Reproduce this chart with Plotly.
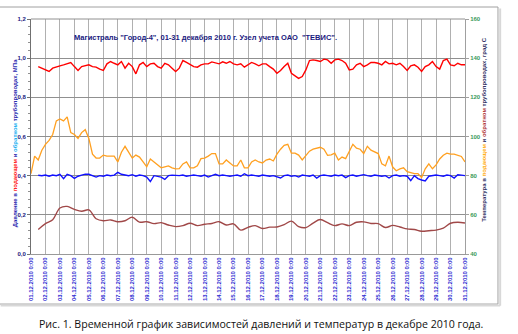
import pandas as pd
import plotly.graph_objects as go

# ---- data ----
# supply temperature, °C, every 6 h from 01.12 0:00 to 31.12 0:00
t_supply = [81, 90, 88, 93, 96, 98, 101, 108, 109, 108, 110, 102, 101, 99, 102, 103.5,
            99, 91, 89, 89, 90.5, 90, 90, 90, 87, 92, 95, 92, 89, 90.5, 89.5, 87,
            84.5, 88.5, 87, 85.5, 84, 84.5, 85, 84, 83.5,
            83.6, 86, 87, 84, 84, 85, 88.7, 89, 90, 91.3, 91.3, 86, 86, 88, 86.5,
            85, 85, 88, 84, 84, 87, 88, 87, 86.5, 88, 88.5, 87.5, 91, 93.5, 95.5, 96,
            91.5, 91.5, 90.5, 88, 90, 92.5, 93.5, 94, 94.5,
            93.5, 90.4, 90.6, 91.5, 88, 89.5, 88.7, 92, 96, 94, 93.5, 91.3, 95, 93, 92,
            91.3, 86, 85, 90, 84.4, 82.5, 83.5, 84, 82, 81.5, 81, 81, 79, 83.5, 86, 83.5,
            85.5, 88.5, 90.4, 91.5, 91, 91, 90.5, 89.8, 87]

# supply pressure, MPa, every 6 h from 01.12 12:00 to 31.12 0:00
p_supply = [0.957, 0.949, 0.944, 0.932, 0.949, 0.957, 0.961, 0.966, 0.971, 0.978,
            0.957, 0.937, 0.957, 0.961, 0.966, 0.957, 0.954, 0.944, 0.937, 0.971, 0.983, 0.974,
            0.966, 0.983, 0.949, 0.974, 0.957, 0.920, 0.966, 0.978, 0.957, 0.971, 0.974, 0.957,
            0.949, 0.974, 0.966, 0.949, 0.932,
            0.949, 0.988, 0.978, 0.966, 0.957, 0.954, 0.966, 0.971, 0.971, 0.981, 0.974,
            0.971, 0.981, 0.974, 0.983, 0.971, 0.966, 0.971, 0.954, 0.966, 0.978, 0.971, 0.961,
            0.971, 0.971, 0.957, 0.944, 0.923, 0.937, 0.957, 0.974, 0.923, 0.909, 0.897, 0.906,
            0.940, 0.988, 0.991, 0.988, 0.983,
            0.995, 0.991, 0.974, 0.991, 0.995, 0.988, 0.974, 0.940, 0.944, 0.966, 0.974,
            0.957, 0.966, 0.978, 0.978, 0.974, 0.966, 0.983, 0.971, 0.974, 0.966, 0.974, 0.957,
            0.937, 0.961, 0.966, 0.954, 0.932, 0.957, 0.966, 0.983, 0.957, 0.944, 0.988, 0.995,
            0.966, 0.961, 0.974, 0.966, 0.966]

# return pressure, MPa, every 6 h from 01.12 12:00 to 31.12 0:00
p_return = [0.402, 0.400, 0.403, 0.397, 0.403, 0.400, 0.407, 0.385, 0.407, 0.400,
            0.386, 0.397, 0.403, 0.408, 0.407, 0.400, 0.393, 0.400, 0.397, 0.403, 0.400, 0.403,
            0.417, 0.407, 0.403, 0.400, 0.405, 0.397, 0.403, 0.400, 0.393, 0.370, 0.400, 0.397,
            0.393, 0.381, 0.400, 0.403, 0.400,
            0.400, 0.403, 0.397, 0.400, 0.403, 0.400, 0.397, 0.403, 0.393, 0.400, 0.407,
            0.400, 0.403, 0.400, 0.397, 0.400, 0.403, 0.397, 0.410, 0.400, 0.403, 0.400, 0.397,
            0.403, 0.400, 0.397, 0.400, 0.393, 0.388, 0.400, 0.403, 0.397, 0.400, 0.393, 0.403,
            0.400, 0.397, 0.403, 0.388, 0.400,
            0.403, 0.400, 0.397, 0.403, 0.400, 0.403, 0.390, 0.400, 0.403, 0.397, 0.400,
            0.405, 0.400, 0.397, 0.403, 0.400, 0.397, 0.400, 0.388, 0.400, 0.403, 0.397, 0.400,
            0.397, 0.375, 0.400, 0.385, 0.378, 0.373, 0.397, 0.400, 0.403, 0.400, 0.397, 0.403,
            0.400, 0.388, 0.405, 0.403, 0.400]

# return temperature, °C, every 12 h from 01.12 12:00 to 31.12 0:00
t_return = [52.5, 55.5, 57.5, 63.5, 64.3, 62.8, 61.8, 62.5, 58, 57, 57.4, 56.5, 57, 58.8,
            56.3, 56.5, 55.5, 56, 54.8, 54,
            54.5, 55.7, 54.5, 55.2, 55.6, 56.5, 54.8, 55.4, 52.2, 53.6, 54.5, 53, 53.7, 53.8,
            55, 56.8, 54, 53.5, 55.8, 57.6,
            56, 54.5, 55.4, 54.5, 56.2, 56.4, 55.6, 55.5, 53.5, 54.6, 53.8, 52.8, 52.5, 51.6,
            51.9, 52.2, 53.2, 55.7, 56.2, 55.8]

t6 = pd.date_range("2010-12-01 00:00", "2010-12-31 00:00", freq="6h")
t6p = t6[2:]
t12 = pd.date_range("2010-12-01 12:00", "2010-12-31 00:00", freq="12h")

days = pd.date_range("2010-12-01", "2010-12-31", freq="D")
day_labels = [f"<b>{d:%d.%m.%Y} 0:00</b>" for d in days]
p_ticks = [0.0, 0.2, 0.4, 0.6, 0.8, 1.0, 1.2]
p_labels = ["<b>0,0</b>", "<b>0,2</b>", "<b>0,4</b>", "<b>0,6</b>", "<b>0,8</b>", "<b>1,0</b>", "<b>1,2</b>"]
t_ticks = [40, 60, 80, 100, 120, 140, 160]
t_labels = [f"<b>{v}</b>" for v in t_ticks]

FONT = "Liberation Sans"

fig = go.Figure()
fig.add_trace(go.Scatter(x=t6p, y=p_supply, mode="lines", line=dict(color="#ff0000", width=1.4),
                         yaxis="y", showlegend=False))
fig.add_trace(go.Scatter(x=t6p, y=p_return, mode="lines", line=dict(color="#1010ff", width=1.4),
                         yaxis="y", showlegend=False))
fig.add_trace(go.Scatter(x=t6, y=t_supply, mode="lines", line=dict(color="#ffa020", width=1.3),
                         yaxis="y2", showlegend=False))
fig.add_trace(go.Scatter(x=t12, y=t_return, mode="lines", line=dict(color="#a04848", width=1.4, shape="spline"),
                         yaxis="y2", showlegend=False))

fig.update_layout(
    width=518, height=334,
    margin=dict(l=31, r=53, t=19, b=80, autoexpand=False),
    paper_bgcolor="white", plot_bgcolor="white",
    font=dict(family=FONT, size=6),
    xaxis=dict(type="date", range=[days[0], days[-1]], tickmode="array", tickvals=days,
               ticktext=day_labels, tickangle=-90, tickfont=dict(color="#2a2ad0", size=6),
               showgrid=True, gridcolor="#b0b0b0", gridwidth=1, showline=True, linecolor="#999999",
               zeroline=False, ticks="", automargin=False),
    yaxis=dict(range=[0, 1.2], tickmode="array", tickvals=p_ticks, ticktext=p_labels,
               tickfont=dict(color="#1a1a80", size=6), showgrid=True, gridcolor="#909090",
               showline=True, linecolor="#707070", zeroline=False, ticks="outside", ticklen=3,
               tickcolor="#707070", automargin=False,
               minor=dict(dtick=0.04, ticks="outside", ticklen=2, tickcolor="#909090")),
    yaxis2=dict(range=[40, 160], overlaying="y", side="right", tickmode="array", tickvals=t_ticks,
                ticktext=t_labels, tickfont=dict(color="#3a9a5a", size=6), showgrid=False, showline=True,
                linecolor="#a0a0a0", zeroline=False, ticks="outside", ticklen=3, tickcolor="#a0a0a0",
                automargin=False),
    shapes=[
        dict(type="line", xref="paper", yref="paper", x0=0, x1=1, y0=1, y1=1,
             line=dict(color="#909090", width=1)),
        dict(type="rect", xref="paper", yref="paper", x0=-0.075, x1=1.076, y0=-0.213, y1=1.051,
             line=dict(color="#a0a0a0", width=1), layer="below"),
        dict(type="line", xref="paper", yref="paper", x0=1.081, x1=1.081, y0=-0.22, y1=1.045,
             line=dict(color="#d8d8d8", width=2)),
        dict(type="line", xref="paper", yref="paper", x0=-0.07, x1=1.081, y0=-0.219, y1=-0.219,
             line=dict(color="#d8d8d8", width=2)),
    ],
    annotations=[
        dict(text="<b>Магистраль \"Город-4\", 01-31 декабря 2010 г. Узел учета ОАО  \"ТЕВИС\".</b>",
             xref="paper", yref="paper", x=0.403, y=0.95, showarrow=False,
             font=dict(color="#1a1a80", size=7.5, family=FONT)),
        dict(text="<b>Давление в <span style='color:#ff2020'>подающем</span> и "
                  "<span style='color:#20b0f0'>обратном</span> трубопроводах, МПа</b>",
             xref="paper", yref="paper", x=-0.048, y=0.472, textangle=-90, showarrow=False,
             font=dict(color="#2a2ab0", size=6, family=FONT)),
        dict(text="<b>Температура в <span style='color:#ffb020'>подающем</span> и "
                  "<span style='color:#b03a3a'>обратном</span> трубопроводах, град С</b>",
             xref="paper", yref="paper", x=1.055, y=0.528, textangle=-90, showarrow=False,
             font=dict(color="#333366", size=6, family=FONT)),
        dict(text="Рис. 1. Временной график зависимостей давлений и температур в декабре 2010 года.",
             xref="paper", yref="paper", x=0.531, y=-0.336, showarrow=False,
             font=dict(color="#111111", size=10.6, family="Open Sans")),
    ],
)

fig.write_html("out.html", config={"displayModeBar": False},
               post_script="document.body.style.margin='0';")
